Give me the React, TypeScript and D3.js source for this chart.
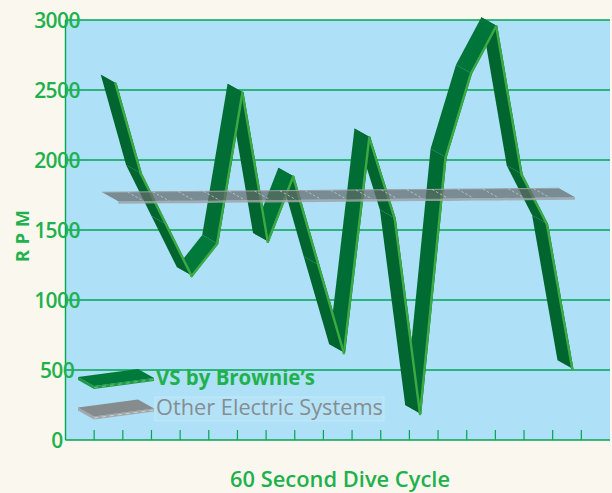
import * as d3 from 'd3'
import { useEffect, useRef } from 'react'

// 19 samples across the dive cycle
const samples = [1, 2, 3, 4, 5, 6, 7, 8, 9, 10, 11, 12, 13, 14, 15, 16, 17, 18, 19]
const vsRpm = [2610, 1965, 1600, 1235, 1465, 2545, 1480, 1945, 1310, 685, 2225, 1645, 250, 2080, 2680, 3020, 1960, 1605, 570]
const otherRpm = [1770, 1771, 1773, 1774, 1776, 1778, 1779, 1781, 1782, 1784, 1786, 1787, 1789, 1790, 1792, 1793, 1795, 1796, 1798]
const rpmTicks = [0, 500, 1000, 1500, 2000, 2500, 3000]
const seriesNames = ['VS by Brownie\u2019s', 'Other Electric Systems']

const W = 612
const H = 493
const green = '#21b14c'
const gridColor = '#00a651'
const font = '"Open Sans", "Noto Sans", sans-serif'

export default function App() {
  const svgRef = useRef<SVGSVGElement>(null)

  useEffect(() => {
    if (!svgRef.current) return
    const svg = d3.select(svgRef.current)
    svg.selectAll('*').remove()

    const wall = { left: 65.5, right: 610, top: 20, bottom: 440 }
    const depth: [number, number] = [16, 9] // oblique depth of the ribbons

    const y = d3.scaleLinear().domain([0, 3000]).range([wall.bottom, wall.top])
    const xWall = d3.scaleBand<number>().domain(samples).range([wall.left, wall.right])
    const xSeries = d3.scalePoint<number>().domain(samples).range([100.7, 557.5])

    // page + back wall
    svg.append('rect').attr('width', W).attr('height', H).attr('fill', '#faf8ee')
    svg
      .append('rect')
      .attr('x', wall.left)
      .attr('y', wall.top)
      .attr('width', wall.right - wall.left)
      .attr('height', wall.bottom - wall.top)
      .attr('fill', '#aee0f7')

    // gridlines
    svg
      .append('g')
      .selectAll('line')
      .data(rpmTicks)
      .join('line')
      .attr('x1', wall.left)
      .attr('x2', wall.right)
      .attr('y1', (d) => y(d))
      .attr('y2', (d) => y(d))
      .attr('stroke', gridColor)
      .attr('stroke-width', 1.4)

    svg
      .append('line')
      .attr('x1', wall.left)
      .attr('x2', wall.left)
      .attr('y1', wall.top)
      .attr('y2', wall.bottom)
      .attr('stroke', gridColor)
      .attr('stroke-width', 1.4)

    // bottom ticks at band boundaries
    svg
      .append('g')
      .selectAll('line')
      .data(samples.slice(1))
      .join('line')
      .attr('x1', (d) => xWall(d)!)
      .attr('x2', (d) => xWall(d)!)
      .attr('y1', wall.bottom - 10)
      .attr('y2', wall.bottom)
      .attr('stroke', gridColor)
      .attr('stroke-width', 1.2)

    // y labels
    svg
      .append('g')
      .selectAll('text')
      .data(rpmTicks)
      .join('text')
      .attr('x', 57)
      .attr('y', (d) => y(d))
      .attr('dy', '0.36em')
      .attr('text-anchor', 'middle')
      .attr('font-family', font)
      .attr('font-weight', 600)
      .attr('font-size', 21)
      .attr('letter-spacing', -0.6)
      .attr('fill', green)
      .text((d) => d)

    // legend
    const swatch = (ax: number, ay: number, top: string, side: string, edge: string) => {
      const A: [number, number] = [ax, ay]
      const B: [number, number] = [ax + 60, ay - 8]
      const C: [number, number] = [B[0] + depth[0], B[1] + depth[1]]
      const D: [number, number] = [A[0] + depth[0], A[1] + depth[1]]
      const t = 3
      svg
        .append('polygon')
        .attr('points', [A, D, [D[0], D[1] + t], [A[0], A[1] + t]].join(' '))
        .attr('fill', side)
      svg
        .append('polygon')
        .attr('points', [D, C, [C[0], C[1] + t], [D[0], D[1] + t]].join(' '))
        .attr('fill', side)
      svg.append('polygon').attr('points', [A, B, C, D].join(' ')).attr('fill', top)
      svg
        .append('line')
        .attr('x1', D[0])
        .attr('y1', D[1] + 1.5)
        .attr('x2', C[0])
        .attr('y2', C[1] + 1.5)
        .attr('stroke', edge)
        .attr('stroke-width', 0.8)
        .attr('stroke-dasharray', '4,4')
    }
    swatch(78, 377, '#007a3a', '#1f9a45', '#7fd08a')
    swatch(78, 407.5, '#868c8e', '#a3a8aa', '#d5dadc')

    svg
      .append('rect')
      .attr('x', 155)
      .attr('y', 397)
      .attr('width', 229)
      .attr('height', 24)
      .attr('fill', '#b4e3f8')
      .attr('stroke', '#c9ecfa')
      .attr('stroke-width', 0.8)

    svg
      .append('text')
      .attr('x', 156)
      .attr('y', 384.5)
      .attr('font-family', font)
      .attr('font-weight', 700)
      .attr('font-size', 22)
      .attr('textLength', 159)
      .attr('lengthAdjust', 'spacingAndGlyphs')
      .attr('fill', green)
      .text(seriesNames[0])

    svg
      .append('text')
      .attr('x', 156)
      .attr('y', 414.5)
      .attr('font-family', font)
      .attr('font-weight', 400)
      .attr('font-size', 22)
      .attr('textLength', 227)
      .attr('lengthAdjust', 'spacingAndGlyphs')
      .attr('fill', '#858d91')
      .text(seriesNames[1])

    // VS ribbon: earlier segments sit in front, so paint from the last one back
    const pts = samples.map((s, i) => [xSeries(s)!, y(vsRpm[i])] as [number, number])
    const off = (p: [number, number]): [number, number] => [p[0] + depth[0], p[1] + depth[1]]
    const ribbon = svg.append('g')
    for (let i = pts.length - 2; i >= 0; i--) {
      const a = pts[i]
      const b = pts[i + 1]
      const up = b[1] < a[1]
      const flat = Math.abs(b[0] - a[0]) / Math.hypot(b[0] - a[0], b[1] - a[1])
      const fill = up ? d3.interpolateRgb('#006a33', '#00823f')(flat) : '#00652f'
      ribbon
        .append('polygon')
        .attr('points', [a, b, off(b), off(a)].join(' '))
        .attr('fill', fill)
      ribbon
        .append('line')
        .attr('x1', off(a)[0] - 1.2)
        .attr('y1', off(a)[1])
        .attr('x2', off(b)[0] - 1.2)
        .attr('y2', off(b)[1])
        .attr('stroke', '#3aab43')
        .attr('stroke-width', 2.4)
        .attr('stroke-linecap', 'round')
    }

    // other systems: a flat, translucent grey band
    const q = samples.map((s, i) => [xSeries(s)! + 1.5, y(otherRpm[i])] as [number, number])
    const qf = q.map(off)
    const band = svg.append('g')
    band
      .append('polygon')
      .attr('points', [...qf, ...qf.map((p) => [p[0], p[1] + 2.5]).reverse()].join(' '))
      .attr('fill', '#9ea5a7')
      .attr('opacity', 0.85)
    band
      .append('polygon')
      .attr('points', [...q, ...qf.slice().reverse()].join(' '))
      .attr('fill', '#666b6c')
      .attr('opacity', 0.72)
    band
      .append('polyline')
      .attr('points', q.join(' '))
      .attr('fill', 'none')
      .attr('stroke', '#9aa2a4')
      .attr('stroke-width', 1)
    band
      .selectAll('line')
      .data(q.slice(1, -1))
      .join('line')
      .attr('x1', (p) => p[0])
      .attr('y1', (p) => p[1])
      .attr('x2', (p) => p[0] + depth[0])
      .attr('y2', (p) => p[1] + depth[1])
      .attr('stroke', '#c3cbcd')
      .attr('stroke-width', 0.8)
      .attr('stroke-dasharray', '2.5,2')

    // axis titles
    svg
      .append('text')
      .attr('transform', 'translate(29,233) rotate(-90)')
      .attr('text-anchor', 'middle')
      .attr('font-family', font)
      .attr('font-weight', 700)
      .attr('font-size', 18)
      .attr('letter-spacing', 6)
      .attr('fill', green)
      .text('RPM')

    svg
      .append('text')
      .attr('x', 230)
      .attr('y', 487)
      .attr('font-family', font)
      .attr('font-weight', 600)
      .attr('font-size', 22)
      .attr('textLength', 220)
      .attr('lengthAdjust', 'spacingAndGlyphs')
      .attr('fill', green)
      .text('60 Second Dive Cycle')
  }, [])

  return (
    <svg
      ref={svgRef}
      width={W}
      height={H}
      style={{ position: 'absolute', left: 0, top: 0, display: 'block' }}
    />
  )
}
